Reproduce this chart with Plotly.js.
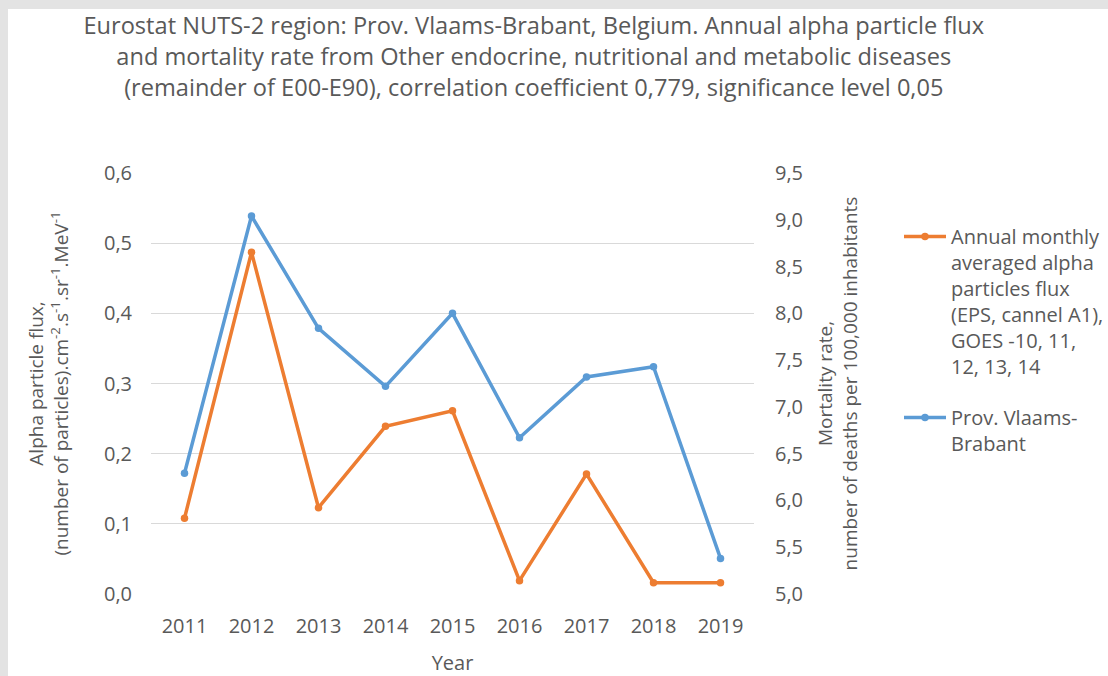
<!DOCTYPE html>
<html>
<head>
<meta charset="utf-8">
<script src="https://cdn.plot.ly/plotly-3.0.1.min.js"></script>
<style>
  html, body { margin: 0; padding: 0; background: #e3e3e3; width: 1108px; height: 676px; overflow: hidden; }
  #chart { position: absolute; left: 8px; top: 9px; width: 1100px; height: 667px; background: #ffffff; }
</style>
</head>
<body>
<div id="chart"></div>
<script>
const years = ["2011", "2012", "2013", "2014", "2015", "2016", "2017", "2018", "2019"];
const alphaFlux = [0.108, 0.487, 0.123, 0.239, 0.261, 0.019, 0.171, 0.016, 0.016];
const mortality = [6.29, 9.04, 7.84, 7.22, 8.00, 6.67, 7.32, 7.43, 5.38];
const leftTicks = [0, 0.1, 0.2, 0.3, 0.4, 0.5, 0.6];
const rightTicks = [5.0, 5.5, 6.0, 6.5, 7.0, 7.5, 8.0, 8.5, 9.0, 9.5];

const seriesNames = [
  "Annual monthly<br>averaged alpha<br>particles flux<br>(EPS, cannel A1),<br>GOES -10, 11,<br>12, 13, 14",
  "Prov. Vlaams-<br>Brabant"
];

const FONT = "Open Sans, DejaVu Sans, sans-serif";
const GREY = "#595959";

const traces = [
  {
    x: years, y: alphaFlux, name: seriesNames[0], type: "scatter", mode: "lines+markers",
    yaxis: "y", legendgroup: "a",
    line: {color: "#ED7D31", width: 3.5}, marker: {color: "#ED7D31", size: 7.5}
  },
  {
    x: years, y: mortality, name: seriesNames[1], type: "scatter", mode: "lines+markers",
    yaxis: "y2", legendgroup: "b",
    line: {color: "#5B9BD5", width: 3.5}, marker: {color: "#5B9BD5", size: 7.5}
  }
];

const layout = {
  width: 1100, height: 667,
  paper_bgcolor: "#ffffff", plot_bgcolor: "#ffffff",
  separators: ", ",
  font: {family: FONT, size: 20, color: GREY},
  margin: {l: 143, r: 354, t: 164, b: 82, pad: 0},
  title: {
    text: "Eurostat NUTS-2 region: Prov. Vlaams-Brabant, Belgium. Annual alpha particle flux<br>and mortality rate from Other endocrine, nutritional and metabolic diseases<br>(remainder of E00-E90), correlation coefficient 0,779, significance level 0,05",
    font: {family: FONT, size: 23.6, color: GREY},
    xref: "container", x: 0.478, xanchor: "center",
    yref: "container", y: 0.962, yanchor: "top"
  },
  xaxis: {
    type: "category", range: [-0.5, 8.5],
    showgrid: false, showline: false, zeroline: false, ticks: "",
    tickfont: {family: FONT, size: 20, color: GREY},
    ticklabelstandoff: 18,
    title: {text: "Year", font: {family: FONT, size: 20, color: GREY}, standoff: 26}
  },
  yaxis: {
    range: [0, 0.6], tickvals: leftTicks, tickformat: ".1f",
    showgrid: true, gridcolor: "#d9d9d9", gridwidth: 1,
    zeroline: false, showline: false, ticks: "",
    tickfont: {family: FONT, size: 20, color: GREY},
    ticklabelstandoff: 18,
    title: {
      text: "Alpha particle flux,<br>(number of particles).cm<sup>-2</sup>.s<sup>-1</sup>.sr<sup>-1</sup>.MeV<sup>-1</sup>",
      font: {family: FONT, size: 19, color: GREY}, standoff: 30
    }
  },
  yaxis2: {
    overlaying: "y", side: "right",
    range: [5.0, 9.5], tickvals: rightTicks, tickformat: ".1f",
    showgrid: false, zeroline: false, showline: false, ticks: "",
    tickfont: {family: FONT, size: 20, color: GREY},
    ticklabelstandoff: 20,
    title: {
      text: "Mortality rate,<br>number of deaths per 100,000 inhabitants",
      font: {family: FONT, size: 19, color: GREY}, standoff: 16
    }
  },
  legend: {
    xref: "container", yref: "container",
    x: 0.8100, xanchor: "left", y: 0.688, yanchor: "top",
    font: {family: FONT, size: 20, color: GREY},
    bgcolor: "rgba(0,0,0,0)", borderwidth: 0,
    valign: "top", itemwidth: 42, tracegroupgap: 22
  },
  showlegend: true
};

Plotly.newPlot("chart", traces, layout, {displayModeBar: false, staticPlot: true});
</script>
</body>
</html>
